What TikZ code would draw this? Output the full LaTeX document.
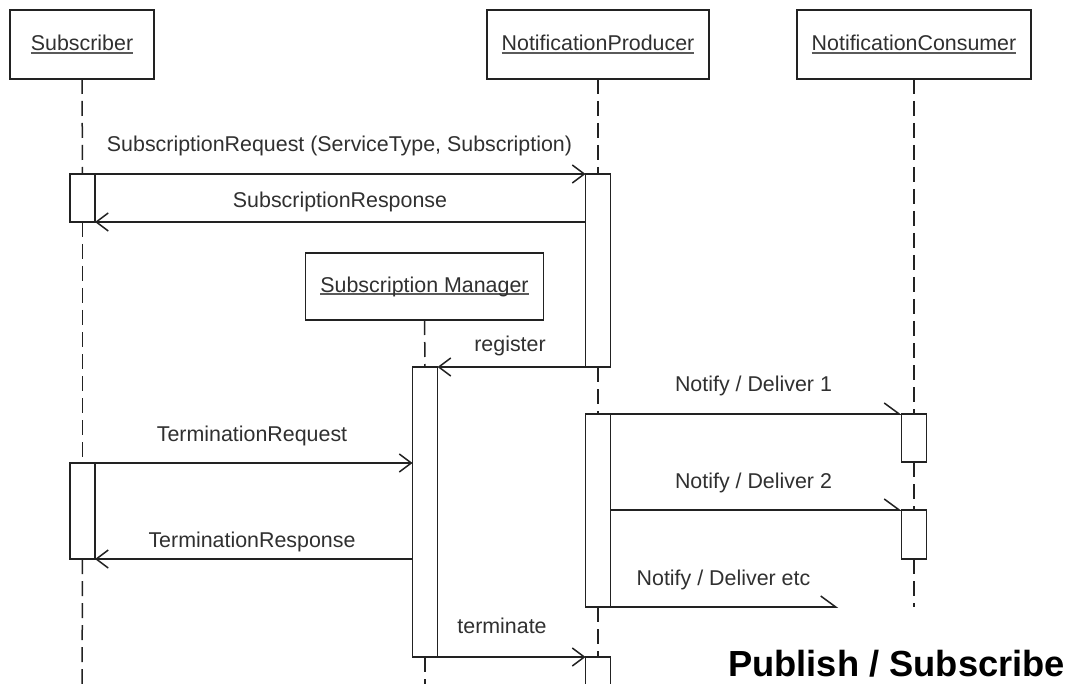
\documentclass[tikz,border=0pt]{standalone}
\usepackage{fontspec}
\setmainfont{Liberation Sans}
\usetikzlibrary{arrows.meta}

\definecolor{linec}{HTML}{222222}
\definecolor{textc}{HTML}{303030}

% underlined object name, rule set just below the baseline
\newcommand\objname[1]{\setbox0\hbox{#1}\rlap{\color{textc!80}\rule[-2.6pt]{\wd0}{1.3pt}}\box0}

\begin{document}
\begin{tikzpicture}[x=1pt,y=1pt,
  ink/.style={draw=linec, line width=1.5pt},
  actor/.style={draw=linec, line width=1.8pt, fill=white, minimum height=69pt,
    inner sep=0pt, outer sep=0pt, font=\fontsize{21.4}{25}\selectfont, text=textc},
  lifeline/.style={draw=linec, line width=1.5pt, dash pattern=on 15pt off 7pt},
  activation/.style={draw=linec, line width=1.5pt, fill=white, minimum width=25pt,
    inner sep=0pt, outer sep=0pt},
  call/.style={ink, -{Straight Barb[length=12pt,width=18pt]}},
  async/.style={ink, -{Straight Barb[left,length=15pt,width=22pt]}},
  msg/.style={font=\fontsize{21.4}{25}\selectfont, text=textc, anchor=base, inner sep=0pt},
]
\path[use as bounding box, fill=white] (0,0) rectangle (1078,-684);
\clip (0,0) rectangle (1078,-684);

% objects
\node[actor, minimum width=144pt] (sub)  at (82,-44.5)  {\objname{Subscriber}};
\node[actor, minimum width=222pt] (prod) at (598,-44.5) {\objname{NotificationProducer}};
\node[actor, minimum width=234pt] (cons) at (914,-44.5) {\objname{NotificationConsumer}};
\node[actor, minimum width=238pt, minimum height=67pt] (mgr) at (424.5,-286.5) {\objname{Subscription Manager}};

% lifeline ends
\coordinate (subEnd)  at (82,-700);
\coordinate (prodEnd) at (598,-700);
\coordinate (consEnd) at (914,-607);
\coordinate (mgrEnd)  at (425,-700);

% activation bars
\node[activation, minimum height=48pt]  (subA1)  at (82.5,-198)  {};
\node[activation, minimum height=96pt]  (subA2)  at (82.5,-511)  {};
\node[activation, minimum height=193pt] (prodA1) at (598,-270.5) {};
\node[activation, minimum height=193pt] (prodA2) at (598,-510.5) {};
\node[activation, minimum height=60pt]  (prodA3) at (598,-687)   {};
\node[activation, minimum height=290pt] (mgrA)   at (425,-512)   {};
\node[activation, minimum height=48pt]  (consA1) at (914,-438)   {};
\node[activation, minimum height=49pt]  (consA2) at (914,-534.5) {};

% lifelines between the bars
\draw[lifeline] (sub.south) -- (subA1.north);
\draw[lifeline] (subA1.south) -- (subA2.north);
\draw[lifeline] (subA2.south) -- (subEnd);
\draw[lifeline] (prod.south) -- (prodA1.north);
\draw[lifeline] (prodA1.south) -- (prodA2.north);
\draw[lifeline] (prodA2.south) -- (prodA3.north);
\draw[lifeline] (cons.south) -- (consA1.north);
\draw[lifeline] (consA1.south) -- (consA2.north);
\draw[lifeline] (consA2.south) -- (consEnd);
\draw[lifeline] (mgr.south) -- (mgrA.north);
\draw[lifeline] (mgrA.south) -- (mgrEnd);

% messages
\draw[call] (subA1.north east) -- (prodA1.north west);
\draw[call] (prodA1.west |- subA1.south) -- (subA1.south east);
\draw[call] (prodA1.south west) -- (mgrA.north east);
\draw[async] (prodA2.north east) -- (consA1.north west);
\draw[async] (prodA2.east |- consA2.north) -- (consA2.north west);
\coordinate (etcEnd) at (838,-607);
\draw[async] (prodA2.south east) -- (etcEnd);
\draw[call] (subA2.north east) -- (mgrA.west |- subA2.north);
\draw[call] (mgrA.west |- subA2.south) -- (subA2.south east);
\draw[call] (mgrA.south east) -- (prodA3.north west);

% message labels
\node[msg] (lReq)  at (339.5,-152) {SubscriptionRequest (ServiceType, Subscription)};
\node[msg] (lResp) at (340,-208) {SubscriptionResponse};
\node[msg] (lReg)  at (510,-352) {register};
\node[msg] (lN1)   at (753.5,-391) {Notify / Deliver 1};
\node[msg] (lN2)   at (753.5,-488) {Notify / Deliver 2};
\node[msg] (lNe)   at (723.5,-585) {Notify / Deliver etc};
\node[msg] (lTReq) at (252,-441) {TerminationRequest};
\node[msg] (lTRes) at (252,-547) {TerminationResponse};
\node[msg] (lTerm) at (502,-633) {terminate};

% title
\node[anchor=base west, inner sep=0pt, font=\bfseries\fontsize{36.3}{40}\selectfont, text=black]
  (title) at (728,-676) {Publish / Subscribe};
\end{tikzpicture}
\end{document}
